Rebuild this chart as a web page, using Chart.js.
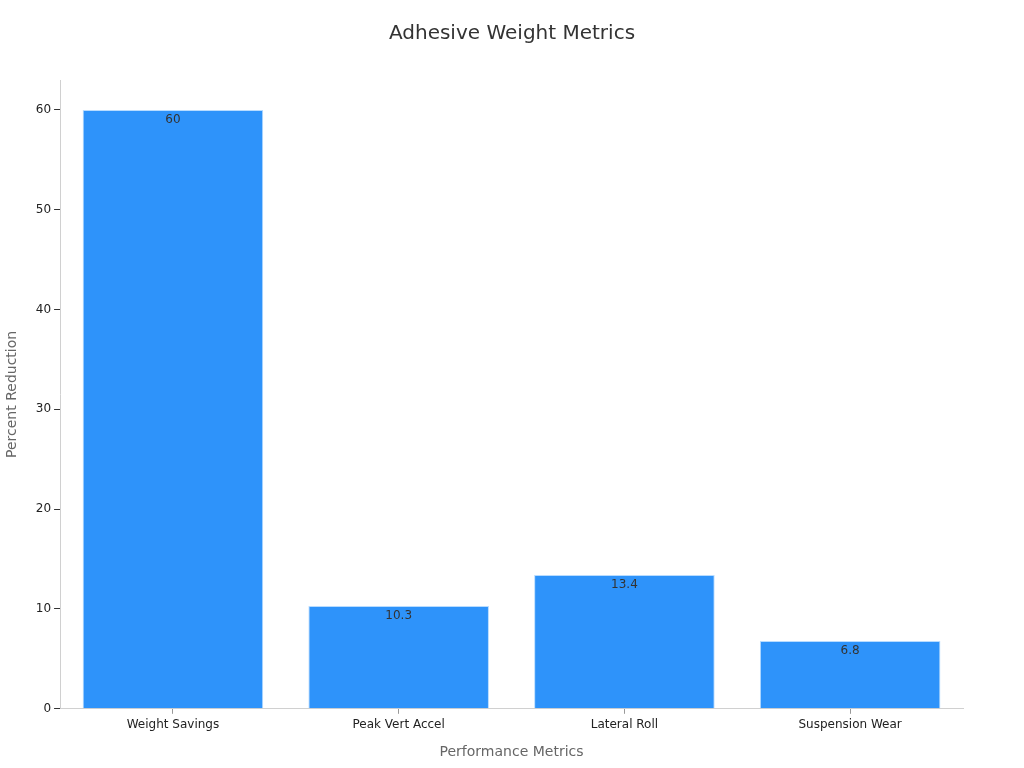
<!DOCTYPE html>
<html><head><meta charset="utf-8">
<script src="https://cdn.jsdelivr.net/npm/chart.js@4/dist/chart.umd.min.js"></script>
<style>html,body{margin:0;padding:0;background:#fff}</style>
</head><body>
<canvas id="c" width="1024" height="768"></canvas>
<script>
const chartTitle = 'Adhesive Weight Metrics';
const categories = ["Weight Savings", "Peak Vert Accel", "Lateral Roll", "Suspension Wear"];
const values = [60, 10.3, 13.4, 6.8];
const yTicks = [0, 10, 20, 30, 40, 50, 60];

const labelPlugin = {
  id: 'barLabels',
  afterDatasetsDraw(chart) {
    const ctx = chart.ctx;
    const meta = chart.getDatasetMeta(0);
    ctx.save();
    ctx.font = '12px "DejaVu Sans"';
    ctx.fillStyle = '#333';
    ctx.textAlign = 'center';
    ctx.textBaseline = 'middle';
    meta.data.forEach((bar, i) => {
      ctx.fillText(String(values[i]), bar.x, bar.y + 10);
    });
    ctx.restore();
  },
  afterDraw(chart) {
    const ctx = chart.ctx;
    ctx.save();
    ctx.font = '20px "DejaVu Sans"';
    ctx.fillStyle = '#333';
    ctx.textAlign = 'center';
    ctx.textBaseline = 'middle';
    ctx.fillText(chartTitle, chart.width / 2, 34);
    ctx.restore();
  }
};

new Chart(document.getElementById('c'), {
  type: 'bar',
  data: {
    labels: categories,
    datasets: [{
      data: values,
      backgroundColor: '#2e93fa',
      borderColor: '#b8dcff',
      borderWidth: 1,
      barPercentage: 0.8,
      categoryPercentage: 1.0
    }]
  },
  options: {
    responsive: false,
    devicePixelRatio: 1,
    animation: false,
    layout: { padding: { left: 0, right: 61, top: 80, bottom: 3 } },
    plugins: {
      legend: { display: false },
      tooltip: { enabled: false },
      title: { display: false }
    },
    scales: {
      x: {
        border: { color: '#d0d0d0' },
        grid: { offset: false, drawOnChartArea: false, drawTicks: true, tickLength: 5, tickColor: '#999' },
        ticks: { color: '#222', font: { family: 'DejaVu Sans', size: 12 }, padding: 4 },
        title: { display: true, text: 'Performance Metrics', color: '#666', font: { family: 'DejaVu Sans', size: 14 }, padding: { top: 8 } }
      },
      y: {
        min: 0, max: 63,
        afterBuildTicks(axis) { axis.ticks = yTicks.map(v => ({ value: v })); },
        border: { color: '#d0d0d0' },
        grid: { drawOnChartArea: false, drawTicks: true, tickLength: 6, tickColor: '#333' },
        ticks: { color: '#222', font: { family: 'DejaVu Sans', size: 12 }, padding: 3 },
        title: { display: true, text: 'Percent Reduction', color: '#666', font: { family: 'DejaVu Sans', size: 14 }, padding: { bottom: 12 } }
      }
    }
  },
  plugins: [labelPlugin]
});
</script>
</body></html>
